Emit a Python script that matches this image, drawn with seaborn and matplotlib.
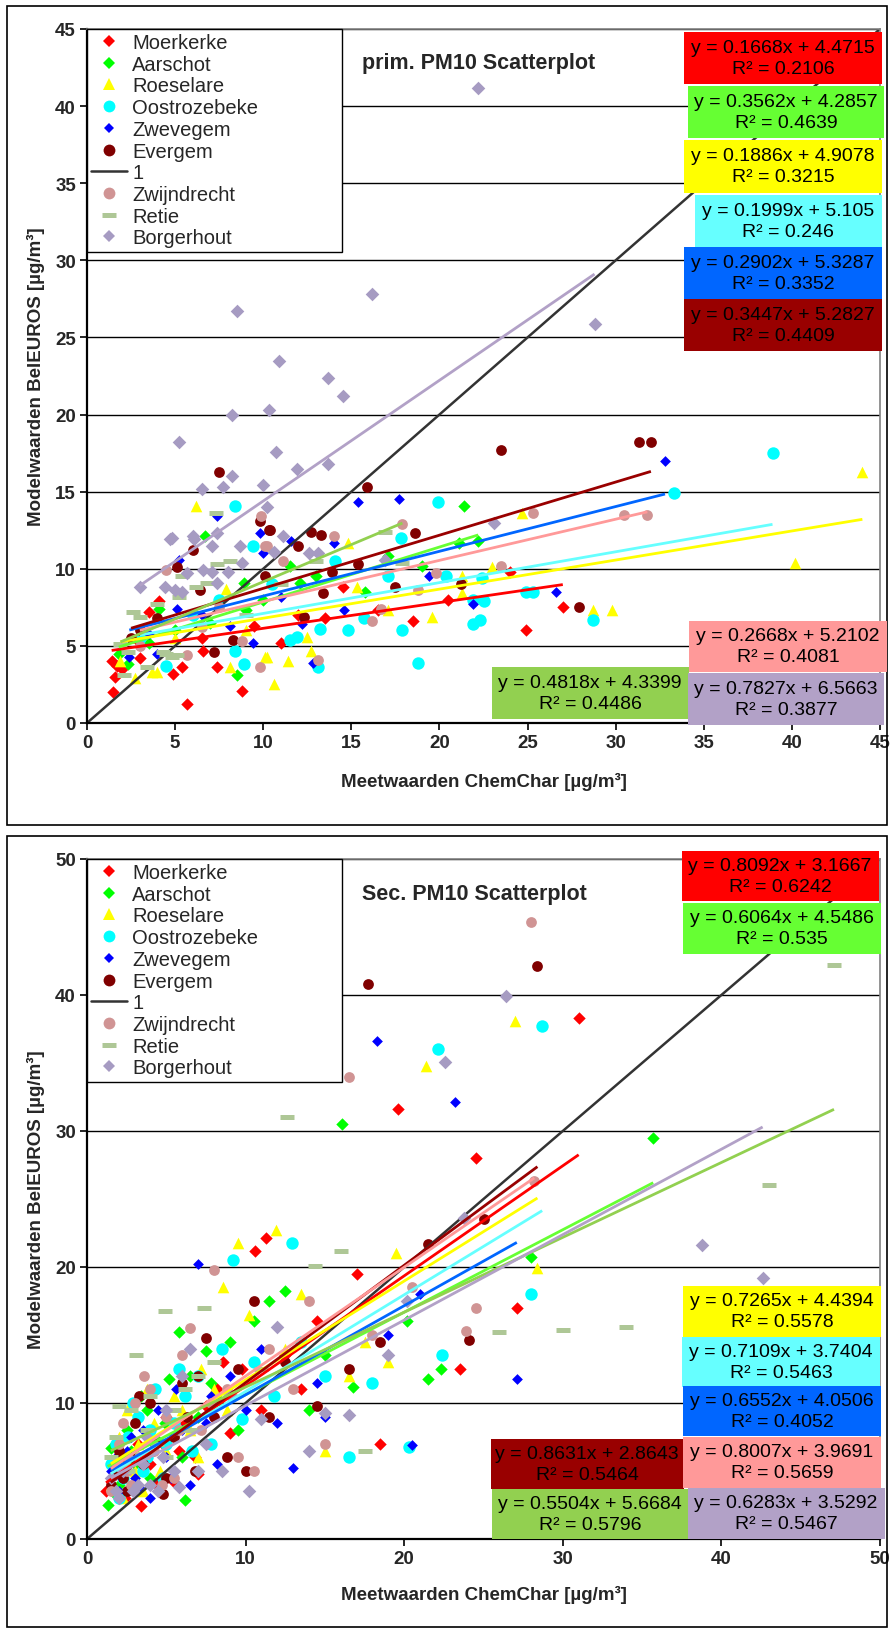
import matplotlib
matplotlib.use("Agg")
import matplotlib.pyplot as plt
import seaborn as sns
from matplotlib.patches import Rectangle
from matplotlib.lines import Line2D

sns.set_style("white")
plt.rcParams["font.family"] = ["Liberation Sans", "DejaVu Sans"]

# ---------------- data ----------------
STATIONS = ["Moerkerke", "Aarschot", "Roeselare", "Oostrozebeke", "Zwevegem",
            "Evergem", "Zwijndrecht", "Retie", "Borgerhout"]

# primary PM10 (top panel)
P_MOER_X = [1.5, 1.6, 1.7, 1.4, 2.0, 2.9, 3.0, 3.5, 4.1, 4.9, 5.4, 5.7, 6.5, 6.6, 7.4, 8.8, 9.5, 11.0, 12.0, 13.5, 14.5, 16.5, 18.5, 20.5, 24.0, 24.9, 27.0]
P_MOER_Y = [2.0, 3.0, 3.7, 4.0, 3.5, 5.3, 4.2, 7.2, 7.9, 3.2, 3.6, 1.2, 5.5, 4.7, 3.6, 2.1, 6.3, 5.2, 7.0, 6.8, 8.8, 7.3, 6.6, 8.0, 9.8, 6.0, 7.5]
P_AARS_X = [1.8, 2.3, 3.5, 4.1, 5.0, 6.7, 7.0, 8.5, 8.9, 9.0, 10.0, 11.5, 12.1, 13.0, 15.8, 17.1, 19.0, 21.1, 21.4, 22.2]
P_AARS_Y = [4.5, 3.8, 5.2, 7.4, 6.0, 12.1, 6.5, 3.1, 9.1, 7.3, 8.0, 10.2, 9.1, 9.5, 8.5, 10.8, 10.2, 11.7, 14.1, 11.8]
P_ROES_X = [1.9, 2.7, 3.7, 4.0, 5.0, 6.2, 7.9, 8.1, 9.0, 10.1, 10.2, 10.6, 11.4, 12.5, 12.7, 14.8, 15.3, 17.1, 19.6, 21.3, 21.3, 23.0, 24.7, 28.7, 29.8, 40.2, 44.0]
P_ROES_Y = [4.0, 2.9, 3.3, 3.3, 5.5, 14.1, 8.7, 3.6, 6.0, 4.3, 4.3, 2.5, 4.0, 5.6, 4.7, 11.7, 8.8, 7.3, 6.9, 9.5, 8.4, 10.1, 13.6, 7.3, 7.3, 10.4, 16.3]
P_OOST_X = [3.0, 4.5, 6.0, 7.5, 8.4, 8.4, 8.9, 9.4, 10.5, 11.5, 11.9, 13.1, 13.2, 14.1, 14.8, 15.7, 17.1, 17.8, 17.9, 18.8, 19.9, 20.4, 21.9, 21.9, 22.3, 22.4, 22.5, 24.9, 25.3, 28.7, 33.3, 38.9]
P_OOST_Y = [5.5, 3.7, 7.0, 8.0, 14.1, 4.7, 3.8, 11.5, 9.0, 5.4, 5.6, 3.6, 6.1, 10.5, 6.0, 6.8, 9.5, 12.0, 6.0, 3.9, 14.3, 9.5, 8.0, 6.4, 6.7, 9.4, 7.9, 8.5, 8.5, 6.7, 14.9, 17.5]
P_ZWEV_X = [2.4, 3.5, 4.0, 5.1, 5.2, 6.5, 7.4, 8.1, 9.4, 9.8, 10.0, 11.0, 11.6, 12.2, 12.8, 14.0, 14.6, 15.4, 17.7, 19.4, 21.9, 26.6, 32.8]
P_ZWEV_Y = [4.3, 5.8, 4.5, 7.4, 10.6, 7.0, 13.4, 6.3, 5.2, 12.3, 11.0, 8.2, 11.8, 6.4, 3.9, 11.7, 7.3, 14.3, 14.5, 9.5, 7.7, 8.5, 17.0]
P_EVER_X = [2.5, 3.0, 4.0, 5.1, 6.0, 6.4, 7.2, 7.5, 8.3, 9.8, 10.1, 10.3, 10.4, 12.0, 12.3, 12.7, 13.3, 13.4, 13.9, 15.4, 15.9, 17.5, 18.6, 21.2, 23.5, 27.9, 31.3, 32.0]
P_EVER_Y = [5.5, 6.0, 6.8, 10.1, 11.2, 8.6, 4.6, 16.3, 5.4, 13.1, 9.5, 12.5, 12.5, 11.5, 6.9, 12.4, 12.2, 8.4, 9.8, 10.3, 15.3, 8.8, 12.3, 9.0, 17.7, 7.5, 18.2, 18.2]
P_ZWIJ_X = [3.0, 4.5, 5.7, 6.5, 7.5, 8.8, 9.8, 9.9, 10.1, 10.2, 11.1, 13.1, 14.0, 16.2, 16.7, 17.9, 18.8, 19.8, 23.5, 25.3, 30.5, 31.8]
P_ZWIJ_Y = [5.0, 9.9, 4.4, 6.2, 7.5, 5.3, 3.6, 13.4, 11.5, 11.5, 10.5, 4.1, 12.1, 6.6, 7.4, 12.9, 8.6, 9.7, 10.2, 13.6, 13.5, 13.5]
P_RETI_X = [1.9, 2.1, 2.3, 2.6, 3.0, 3.4, 4.0, 4.3, 4.5, 4.8, 5.1, 5.2, 5.4, 6.2, 6.8, 7.3, 7.4, 8.1, 9.0, 11.0, 13.0, 16.9, 17.9]
P_RETI_Y = [5.1, 3.1, 4.6, 7.2, 6.9, 3.6, 7.7, 4.6, 4.5, 4.3, 4.4, 8.2, 9.5, 8.8, 9.1, 13.6, 10.3, 10.5, 7.0, 9.0, 10.5, 12.4, 10.4]
P_BORG_X = [3.0, 4.4, 4.7, 4.8, 5.0, 5.2, 5.4, 5.7, 6.0, 6.1, 6.5, 6.6, 7.1, 7.1, 7.4, 7.4, 7.7, 8.0, 8.2, 8.2, 8.5, 8.7, 8.8, 10.0, 10.2, 10.3, 10.6, 10.7, 10.9, 11.1, 11.9, 12.6, 13.1, 13.7, 13.7, 14.5, 16.2, 16.9, 22.2, 23.1, 28.8]
P_BORG_Y = [8.8, 8.8, 11.9, 12.0, 8.6, 18.2, 8.5, 9.7, 12.1, 11.9, 15.2, 9.9, 11.5, 9.8, 12.3, 9.1, 15.3, 9.8, 20.0, 16.0, 26.7, 11.5, 10.4, 15.4, 14.0, 20.3, 11.1, 17.6, 23.5, 12.1, 16.5, 11.0, 11.0, 16.8, 22.4, 21.2, 27.8, 10.6, 41.2, 13.0, 25.9]

# secondary PM10 (bottom panel)
S_MOER_X = [1.6, 2.4, 3.2, 4.4, 5.0, 5.8, 7.0, 8.6, 1.2, 1.8, 2.2, 2.8, 3.4, 4.0, 4.8, 5.5, 6.2, 6.8, 7.5, 8.2, 9.0, 9.8, 10.6, 11.3, 11.0, 12.5, 13.5, 14.5, 17.0, 18.5, 19.6, 23.5, 24.5, 27.1, 31.0]
S_MOER_Y = [5.5, 3.0, 7.0, 4.0, 9.0, 6.5, 4.8, 13.0, 3.5, 4.8, 6.0, 3.8, 2.4, 5.5, 7.0, 4.2, 8.5, 6.0, 9.8, 11.0, 7.8, 12.5, 21.2, 22.1, 9.5, 13.5, 11.0, 16.0, 19.5, 7.0, 31.6, 12.5, 28.0, 17.0, 38.3]
S_AARS_X = [1.8, 2.8, 3.4, 4.0, 4.9, 6.0, 7.8, 9.5, 1.3, 1.5, 2.0, 2.5, 3.0, 3.8, 4.5, 5.2, 5.8, 6.2, 6.5, 7.0, 7.5, 8.3, 9.0, 10.5, 11.5, 12.5, 14.0, 15.0, 16.1, 16.8, 20.2, 21.5, 22.3, 28.0, 35.7]
S_AARS_Y = [3.2, 6.5, 10.5, 4.5, 8.5, 6.0, 11.5, 8.0, 2.5, 6.7, 4.0, 8.0, 5.5, 9.5, 7.2, 11.8, 15.2, 2.9, 12.0, 9.0, 13.8, 10.2, 14.5, 16.0, 17.5, 18.2, 9.5, 13.5, 30.5, 11.2, 16.0, 11.8, 12.5, 20.7, 29.5]
S_ROES_X = [1.8, 2.3, 3.2, 3.8, 4.6, 6.0, 7.0, 8.8, 1.5, 2.0, 2.5, 3.0, 3.5, 4.2, 5.0, 5.5, 6.5, 7.2, 8.0, 8.6, 9.5, 10.2, 11.9, 12.5, 13.5, 15.0, 16.5, 17.5, 19.0, 19.5, 21.4, 27.0, 28.4]
S_ROES_Y = [6.0, 3.0, 7.0, 11.0, 5.0, 9.5, 6.0, 9.5, 4.0, 7.5, 9.5, 5.0, 3.5, 8.5, 6.5, 10.5, 8.0, 12.5, 11.0, 18.5, 21.8, 16.5, 22.7, 14.0, 18.0, 6.5, 12.0, 14.5, 13.0, 21.0, 34.8, 38.1, 19.9]
S_OOST_X = [1.8, 2.3, 2.9, 3.5, 4.0, 5.0, 5.8, 6.6, 1.5, 2.0, 2.6, 3.2, 3.8, 4.3, 4.8, 5.5, 6.2, 7.0, 7.8, 8.5, 9.2, 9.8, 10.5, 11.8, 12.9, 13.5, 15.0, 16.5, 18.0, 20.3, 22.1, 22.4, 28.0, 28.7]
S_OOST_Y = [7.0, 4.5, 10.0, 5.0, 8.0, 7.0, 12.5, 6.5, 5.5, 3.0, 7.5, 9.0, 6.0, 11.0, 4.5, 8.5, 10.5, 12.0, 7.0, 14.0, 20.5, 8.8, 13.0, 10.5, 21.8, 14.5, 12.0, 6.0, 11.5, 6.8, 36.0, 13.5, 18.0, 37.7]
S_ZWEV_X = [1.8, 2.2, 2.8, 3.3, 4.2, 5.3, 6.0, 7.8, 1.5, 2.0, 2.5, 3.0, 3.5, 4.0, 4.5, 5.0, 5.6, 6.5, 7.0, 7.5, 8.2, 9.0, 10.0, 11.0, 12.0, 13.0, 14.5, 15.0, 18.3, 19.0, 20.5, 21.0, 23.2, 27.1]
S_ZWEV_Y = [6.0, 4.5, 7.5, 3.8, 6.5, 4.5, 8.0, 10.5, 5.0, 3.5, 6.5, 4.5, 8.0, 3.0, 9.5, 6.0, 11.0, 4.0, 20.2, 8.5, 5.5, 12.0, 9.5, 14.0, 8.5, 5.2, 11.5, 9.0, 36.6, 15.0, 6.9, 18.0, 32.1, 11.8]
S_EVER_X = [1.8, 2.3, 2.8, 3.3, 4.3, 5.0, 6.3, 7.0, 1.5, 2.0, 2.5, 3.0, 3.5, 4.0, 4.8, 5.5, 6.0, 6.8, 7.5, 8.0, 8.8, 9.5, 10.0, 10.5, 11.5, 12.5, 14.5, 16.5, 17.7, 18.5, 21.5, 24.1, 25.0, 28.4]
S_EVER_Y = [5.0, 4.5, 6.0, 10.5, 7.0, 4.5, 9.0, 12.0, 4.0, 6.5, 3.5, 8.5, 5.5, 10.0, 3.3, 7.5, 11.5, 5.0, 14.8, 9.0, 6.0, 12.5, 5.0, 17.5, 9.0, 13.0, 9.8, 12.5, 40.8, 14.5, 21.7, 14.6, 23.5, 42.1]
S_ZWIJ_X = [1.8, 2.3, 2.8, 3.3, 4.0, 4.7, 5.8, 7.8, 1.5, 2.0, 2.5, 3.0, 3.6, 4.2, 5.0, 5.5, 6.0, 6.5, 7.2, 8.0, 8.8, 9.5, 10.5, 11.5, 13.0, 14.0, 15.0, 16.5, 18.0, 20.5, 23.9, 24.5, 28.0, 28.2]
S_ZWIJ_Y = [5.5, 8.5, 4.0, 6.0, 11.0, 4.0, 8.0, 10.0, 3.5, 7.0, 5.0, 10.0, 12.0, 6.5, 9.0, 4.5, 13.5, 15.5, 8.0, 19.8, 11.0, 6.0, 5.0, 14.0, 11.0, 17.5, 7.0, 34.0, 15.0, 18.5, 15.3, 17.0, 45.4, 26.3]
S_RETI_X = [1.8, 2.3, 2.8, 3.5, 4.0, 5.0, 6.5, 7.0, 1.5, 2.0, 2.6, 3.1, 3.8, 4.4, 4.9, 5.5, 6.2, 7.4, 8.0, 9.0, 11.0, 12.6, 14.4, 16.0, 17.5, 26.0, 30.0, 34.0, 43.0, 47.1]
S_RETI_Y = [7.5, 5.5, 9.5, 6.0, 10.5, 6.0, 8.0, 12.0, 6.0, 9.8, 5.0, 13.5, 8.0, 7.0, 16.8, 9.5, 11.0, 17.0, 13.0, 10.5, 12.5, 31.0, 20.1, 21.2, 6.5, 15.2, 15.4, 15.6, 26.0, 42.2]
S_BORG_X = [1.8, 2.3, 2.9, 3.5, 4.0, 4.8, 5.8, 7.0, 1.5, 2.0, 2.6, 3.2, 3.8, 4.5, 5.0, 5.5, 6.0, 6.5, 7.5, 8.5, 9.0, 10.2, 11.0, 12.0, 14.0, 15.0, 16.5, 19.0, 20.2, 22.6, 23.8, 26.4, 38.8, 42.6]
S_BORG_Y = [3.5, 5.0, 3.5, 5.5, 4.0, 6.0, 3.8, 5.0, 4.5, 3.0, 6.0, 4.0, 7.5, 3.5, 9.5, 5.0, 12.0, 14.0, 7.0, 5.0, 10.5, 3.5, 8.8, 15.6, 6.5, 9.3, 9.1, 13.5, 17.5, 35.1, 23.6, 39.9, 21.6, 19.2]

# "1" reference series
ONE_X = [0, 50]
ONE_Y = [0, 50]

# trendline equations as displayed
P_SLOPE = ["0.1668", "0.3562", "0.1886", "0.1999", "0.2902", "0.3447", "0.2668", "0.4818", "0.7827"]
P_INTER = ["4.4715", "4.2857", "4.9078", "5.105", "5.3287", "5.2827", "5.2102", "4.3399", "6.5663"]
P_R2 = ["0.2106", "0.4639", "0.3215", "0.246", "0.3352", "0.4409", "0.4081", "0.4486", "0.3877"]
S_SLOPE = ["0.8092", "0.6064", "0.7265", "0.7109", "0.6552", "0.8631", "0.8007", "0.5504", "0.6283"]
S_INTER = ["3.1667", "4.5486", "4.4394", "3.7404", "4.0506", "2.8643", "3.9691", "5.6684", "3.5292"]
S_R2 = ["0.6242", "0.535", "0.5578", "0.5463", "0.4052", "0.5464", "0.5659", "0.5796", "0.5467"]

# ---------------- styles ----------------
MARKER_COLORS = ["#FF0000", "#00FF00", "#FFFF00", "#00FFFF", "#0000FF",
                 "#800000", "#D09494", "#AEC796", "#A69BC2"]
MARKERS = ["D", "D", "^", "o", "D", "o", "o", "_", "D"]
SIZES = [40, 40, 70, 80, 30, 60, 60, 110, 48]
TREND_COLORS = ["#FF0000", "#66FF33", "#FFFF00", "#66FFFF", "#0066FF",
                "#990000", "#FF9999", "#92D050", "#B2A1C7"]
BOX_COLORS = TREND_COLORS

W, H = 891, 1633


def fx(x):
    return x / W


def fy(y):
    return 1 - y / H


fig = plt.figure(figsize=(W / 100, H / 100), dpi=100)
fig.patch.set_facecolor("white")

# outer frames
for (y0, y1) in [(7, 826), (837, 1628)]:
    fig.add_artist(Rectangle((fx(7), fy(y1)), (887 - 7) / W, (y1 - y0) / H,
                             transform=fig.transFigure, fill=False,
                             edgecolor="black", linewidth=1.2))

panels = [
    dict(top=30, bottom=724, xmax=45, ymax=45, step=5, title="prim. PM10 Scatterplot",
         title_y=63, xlab_y=782,
         data=[(P_MOER_X, P_MOER_Y), (P_AARS_X, P_AARS_Y), (P_ROES_X, P_ROES_Y),
               (P_OOST_X, P_OOST_Y), (P_ZWEV_X, P_ZWEV_Y), (P_EVER_X, P_EVER_Y),
               (P_ZWIJ_X, P_ZWIJ_Y), (P_RETI_X, P_RETI_Y), (P_BORG_X, P_BORG_Y)],
         slope=P_SLOPE, inter=P_INTER, r2=P_R2,
         boxes=[(783, 59, 198, 52), (786, 113, 196, 52), (783, 167, 198, 53),
                (788, 222, 187, 52), (783, 274, 198, 52), (783, 326, 198, 52),
                (788, 647, 198, 51), (590, 694, 197, 52), (786, 700, 196, 52)]),
    dict(top=860, bottom=1540, xmax=50, ymax=50, step=10, title="Sec. PM10 Scatterplot",
         title_y=895, xlab_y=1595,
         data=[(S_MOER_X, S_MOER_Y), (S_AARS_X, S_AARS_Y), (S_ROES_X, S_ROES_Y),
               (S_OOST_X, S_OOST_Y), (S_ZWEV_X, S_ZWEV_Y), (S_EVER_X, S_EVER_Y),
               (S_ZWIJ_X, S_ZWIJ_Y), (S_RETI_X, S_RETI_Y), (S_BORG_X, S_BORG_Y)],
         slope=S_SLOPE, inter=S_INTER, r2=S_R2,
         boxes=[(780, 877, 197, 50), (782, 929, 198, 51), (782, 1312, 198, 51),
                (781, 1363, 198, 50), (782, 1412, 198, 50), (587, 1465, 193, 50),
                (782, 1463, 198, 51), (590, 1515, 197, 50), (786, 1514, 197, 51)]),
]

AX_L, AX_R = 87, 880

for p in panels:
    ax = fig.add_axes([fx(AX_L), fy(p["bottom"]), (AX_R - AX_L) / W, (p["bottom"] - p["top"]) / H])
    ax.set_facecolor("white")
    ax.set_xlim(0, p["xmax"])
    ax.set_ylim(0, p["ymax"])
    ticks = list(range(0, p["xmax"] + 1, p["step"]))
    ax.set_xticks(ticks)
    ax.set_yticks(ticks)
    ax.set_yticklabels([str(t) for t in ticks])
    ax.set_xticklabels([str(t) for t in ticks])
    ax.tick_params(axis="both", direction="out", length=5, width=1.2, color="black",
                   labelsize=13.5, pad=3, left=True, bottom=True)
    for lab in ax.get_xticklabels() + ax.get_yticklabels():
        lab.set_fontweight("bold")
    ax.yaxis.grid(True, color="black", linewidth=1.0, zorder=0)
    ax.xaxis.grid(False)
    ax.set_axisbelow(True)
    for s in ["left", "bottom"]:
        ax.spines[s].set_color("black")
        ax.spines[s].set_linewidth(1.6)
    for s in ["top", "right"]:
        ax.spines[s].set_color("#808080")
        ax.spines[s].set_linewidth(1.2)

    for i, name in enumerate(STATIONS):
        xs, ys = p["data"][i]
        zo = 2 + i * 0.01 + (0.5 if i >= 6 else 0)
        if MARKERS[i] == "_":
            sns.scatterplot(x=xs, y=ys, marker="_", s=SIZES[i], color=MARKER_COLORS[i],
                            linewidth=3.6, ax=ax, zorder=zo, legend=False)
        else:
            sns.scatterplot(x=xs, y=ys, marker=MARKERS[i], s=SIZES[i], color=MARKER_COLORS[i],
                            linewidth=0, ax=ax, zorder=zo, legend=False)
    # reference "1" line
    ax.plot(ONE_X, ONE_Y, color="#333333", linewidth=1.8, zorder=2.3)
    # trendlines
    for i, name in enumerate(STATIONS):
        xs, ys = p["data"][i]
        a = float(p["slope"][i])
        b = float(p["inter"][i])
        x0, x1 = min(xs), max(xs)
        ax.plot([x0, x1], [a * x0 + b, a * x1 + b], color=TREND_COLORS[i],
                linewidth=2.0, zorder=4 + i * 0.01, solid_capstyle="butt")

    # legend
    ms_map = {"D": 6.3, "^": 8.0, "o": 8.5, "_": 10}
    leg_handles = []
    leg_labels = []
    for i, name in enumerate(STATIONS):
        if i == 6:
            leg_handles.append(Line2D([], [], color="#333333", linewidth=1.8))
            leg_labels.append("1")
        m = MARKERS[i]
        ms = ms_map[m]
        if i == 4:
            ms = 5.3
        if m == "_":
            h = Line2D([], [], linestyle="none", marker="_", markersize=ms,
                       markeredgewidth=3.6, color=MARKER_COLORS[i])
        else:
            h = Line2D([], [], linestyle="none", marker=m, markersize=ms,
                       markerfacecolor=MARKER_COLORS[i], markeredgewidth=0)
        leg_handles.append(h)
        leg_labels.append(name)
    leg = ax.legend(leg_handles, leg_labels, loc="upper left",
                    bbox_to_anchor=(0, 0, (342 - AX_L) / (AX_R - AX_L), 1.0),
                    mode="expand", borderaxespad=0, fontsize=14.5,
                    frameon=True, fancybox=False, framealpha=1, edgecolor="black",
                    labelspacing=0.135, handlelength=1.8, handletextpad=0.25,
                    borderpad=0.2)
    leg.get_frame().set_linewidth(1.0)
    leg.set_zorder(20)

    # title
    fig.text(fx(362), fy(p["title_y"]), p["title"], ha="left", va="center",
             fontsize=15.5, fontweight="bold")
    # axis labels
    fig.text(fx((AX_L + AX_R) / 2), fy(p["xlab_y"]), "Meetwaarden ChemChar [µg/m³]",
             ha="center", va="center", fontsize=13.5, fontweight="bold")
    fig.text(fx(36), fy((p["top"] + p["bottom"]) / 2), "Modelwaarden BelEUROS [µg/m³]",
             ha="center", va="center", rotation=90, fontsize=13.5, fontweight="bold")

    # equation labels
    for i, (cx, cy, bw, bh) in enumerate(p["boxes"]):
        fig.add_artist(Rectangle((fx(cx - bw / 2), fy(cy + bh / 2)), bw / W, bh / H,
                                 transform=fig.transFigure, facecolor=BOX_COLORS[i],
                                 edgecolor="none", zorder=30))
        txt = f"y = {p['slope'][i]}x + {p['inter'][i]}\nR² = {p['r2'][i]}"
        fig.text(fx(cx), fy(cy), txt, ha="center", va="center", multialignment="center",
                 fontsize=14, linespacing=1.3, color="black", zorder=31)

fig.savefig("out.png", dpi=100, facecolor="white")
